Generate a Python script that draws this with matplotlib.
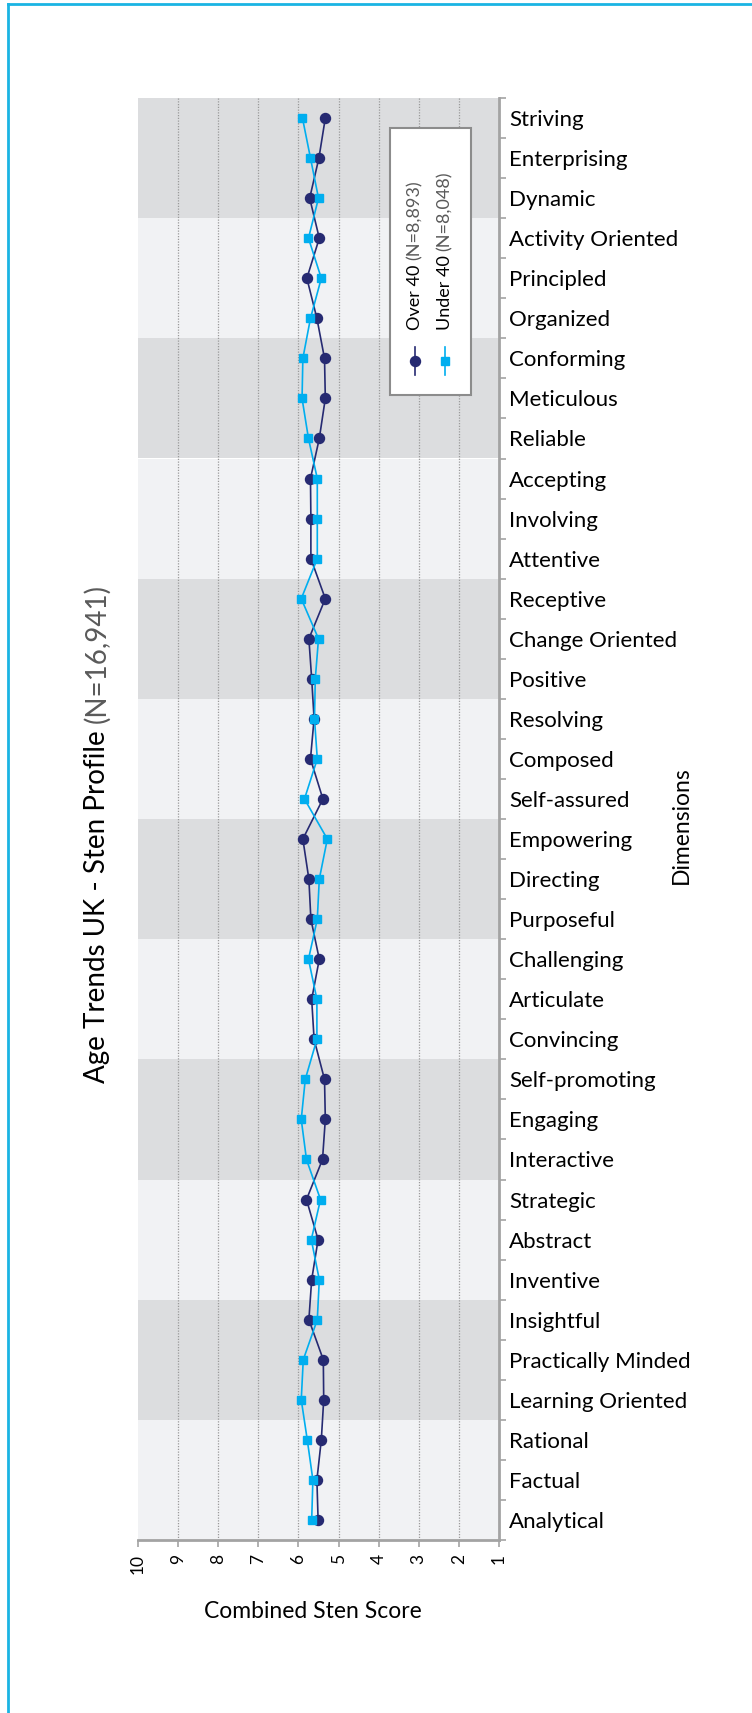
import matplotlib
matplotlib.use("Agg")
import matplotlib.pyplot as plt
from matplotlib.lines import Line2D
from matplotlib.patches import Rectangle
import numpy as np

plt.rcParams['font.family'] = ['Lato', 'DejaVu Sans']

CATEGORIES = [
    "Striving", "Enterprising", "Dynamic", "Activity Oriented", "Principled",
    "Organized", "Conforming", "Meticulous", "Reliable", "Accepting",
    "Involving", "Attentive", "Receptive", "Change Oriented", "Positive",
    "Resolving", "Composed", "Self-assured", "Empowering", "Directing",
    "Purposeful", "Challenging", "Articulate", "Convincing", "Self-promoting",
    "Engaging", "Interactive", "Strategic", "Abstract", "Inventive",
    "Insightful", "Practically Minded", "Learning Oriented", "Rational",
    "Factual", "Analytical",
]

OVER_40 = [5.33, 5.49, 5.72, 5.48, 5.79, 5.54, 5.35, 5.33, 5.48, 5.70,
           5.69, 5.69, 5.33, 5.74, 5.67, 5.61, 5.70, 5.39, 5.89, 5.74,
           5.69, 5.48, 5.67, 5.61, 5.35, 5.33, 5.40, 5.80, 5.51, 5.67,
           5.74, 5.38, 5.37, 5.43, 5.54, 5.51]
UNDER_40 = [5.90, 5.70, 5.50, 5.75, 5.43, 5.70, 5.89, 5.91, 5.75, 5.53,
            5.53, 5.53, 5.93, 5.50, 5.58, 5.60, 5.53, 5.85, 5.28, 5.48,
            5.53, 5.75, 5.54, 5.54, 5.83, 5.93, 5.80, 5.45, 5.68, 5.48,
            5.53, 5.88, 5.93, 5.78, 5.64, 5.67]

SCORE_TICKS = list(range(1, 11))
GROUP_SIZE = 3

NAVY = "#262a72"
CYAN = "#00aeef"
BAND_DARK = "#dcdddf"
BAND_LIGHT = "#f1f2f4"
AXIS_GREY = "#a3a3a3"
SUB_GREY = "#5a5a5a"

fig = plt.figure(figsize=(7.52, 17.13), dpi=100)
ax = fig.add_axes([138 / 752, 1 - 1540 / 1713, 361 / 752, 1442 / 1713])

n = len(CATEGORIES)
ypos = np.arange(n)

# alternating bands, 3 dimensions each
for k, start in enumerate(range(0, n, GROUP_SIZE)):
    ax.axhspan(start - 0.5, start + GROUP_SIZE - 0.5,
               color=BAND_DARK if k % 2 == 0 else BAND_LIGHT, lw=0, zorder=0)

ax.vlines(SCORE_TICKS[1:-1], -0.5, n - 0.5, colors="#9a9a9a",
          linestyles=(0, (1, 1.2)), lw=0.9, zorder=1)

ax.plot(OVER_40, ypos, color=NAVY, lw=1.2, marker="o", ms=7.2, zorder=3)
ax.plot(UNDER_40, ypos, color=CYAN, lw=1.2, marker="s", ms=5.4, zorder=3)

ax.set_xlim(10, 1)
ax.set_ylim(n - 0.5, -0.5)

ax.set_xticks(SCORE_TICKS)
ax.set_xticklabels([str(t) for t in SCORE_TICKS], rotation=90, fontsize=12.5)
ax.tick_params(axis="x", length=5, width=1.2, color=AXIS_GREY, pad=5)

ax.yaxis.tick_right()
ax.set_yticks(ypos)
ax.set_yticklabels(CATEGORIES, fontsize=16)
ax.set_yticks(np.arange(-0.5, n, 1), minor=True)
ax.tick_params(axis="y", which="major", length=0, pad=7.5)
ax.tick_params(axis="y", which="minor", length=5, width=1.2, color=AXIS_GREY)

for side in ("top", "left"):
    ax.spines[side].set_visible(False)
for side in ("right", "bottom"):
    ax.spines[side].set_color(AXIS_GREY)
    ax.spines[side].set_linewidth(2)

# axis titles
fig.text(313 / 752, 1 - 1612 / 1713, "Combined Sten Score", fontsize=16.5,
         ha="center", va="center")
fig.text(681 / 752, 1 - 825 / 1713, "Dimensions", fontsize=16.5,
         rotation=90, ha="center", va="center")

# title, rotated like the rest of the chart
t1 = fig.text(97 / 752, 1 - 1083 / 1713, "Age Trends UK - Sten Profile ",
              fontsize=20, rotation=90, ha="center", va="bottom")
ax.annotate("(N=16,941)", xy=(0.5, 1), xycoords=t1, fontsize=20,
            rotation=90, color=SUB_GREY, ha="center", va="bottom",
            annotation_clip=False)

# legend drawn rotated, in axes fractions
ax.add_patch(Rectangle((0.698, 0.794), 0.224, 0.185, transform=ax.transAxes,
                       facecolor="white", edgecolor="#8c8c8c", lw=1.5,
                       zorder=5))
legend_items = [
    (0.767, NAVY, "o", 7.2, "Over 40", "(N=8,893)"),
    (0.850, CYAN, "s", 5.4, "Under 40", "(N=8,048)"),
]
for lx, col, mk, ms, main, sub in legend_items:
    ax.add_line(Line2D([lx, lx], [0.8079, 0.8273], color=col, lw=1.2,
                       transform=ax.transAxes, zorder=6))
    ax.add_line(Line2D([lx], [0.8176], color=col, marker=mk, ms=ms,
                       transform=ax.transAxes, zorder=6))
    lt = ax.text(lx, 0.839, main + " ", transform=ax.transAxes, fontsize=13,
                 rotation=90, ha="center", va="bottom", zorder=6)
    ax.annotate(sub, xy=(0.5, 1), xycoords=lt, fontsize=13, rotation=90,
                color=SUB_GREY, ha="center", va="bottom", zorder=6)

# cyan frame on the top and left edges
fig.add_artist(Line2D([8 / 752, 1], [1 - 4 / 1713, 1 - 4 / 1713],
                      color="#1ab4e3", lw=2, transform=fig.transFigure))
fig.add_artist(Line2D([8 / 752, 8 / 752], [0, 1 - 4 / 1713],
                      color="#1ab4e3", lw=2, transform=fig.transFigure))

fig.savefig("out.png", dpi=100)
